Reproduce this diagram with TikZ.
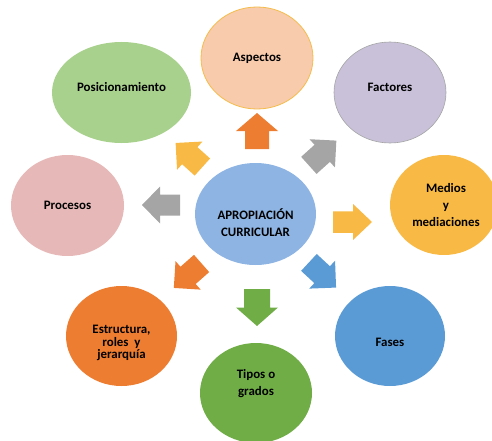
\documentclass[tikz,border=0pt]{standalone}
\usepackage{fontspec}
\setmainfont{Carlito}
\usetikzlibrary{shapes.geometric}
\definecolor{cAsp}{HTML}{F8CBAD}
\definecolor{cAspB}{HTML}{F5BC4A}
\definecolor{cPos}{HTML}{A9D18E}
\definecolor{cFac}{HTML}{C9C1DA}
\definecolor{cFacB}{HTML}{A5A5A5}
\definecolor{cPro}{HTML}{E6B9B8}
\definecolor{cCen}{HTML}{8EB4E3}
\definecolor{cMed}{HTML}{F8BA45}
\definecolor{cEst}{HTML}{ED7D31}
\definecolor{cTip}{HTML}{70AD47}
\definecolor{cFas}{HTML}{5B9BD5}
\definecolor{cGray}{HTML}{A5A5A5}
\tikzset{
  bubble/.style={ellipse, inner sep=0pt, draw=none},
  lbl/.style={font=\fontsize{12.9}{17}\selectfont\bfseries, align=center, inner sep=0pt, text=black},
  blockarrow/.style={draw=none},
}
% #1 x, #2 y, #3 angle, #4 length, #5 head width, #6 shaft width, #7 head length, #8 colour
\newcommand\myblockarrow[8]{%
  \begin{scope}[shift={(#1,#2)}, rotate=#3]
    \fill[blockarrow, #8]
      (-#4/2, #6/2) -- (#4/2-#7, #6/2) -- (#4/2-#7, #5/2) -- (#4/2, 0)
      -- (#4/2-#7, -#5/2) -- (#4/2-#7, -#6/2) -- (-#4/2, -#6/2) -- cycle;
  \end{scope}}
\begin{document}
\begin{tikzpicture}[x=1pt,y=-1pt]
\useasboundingbox (0,0) rectangle (492,441);
\clip (0,0) rectangle (492,441);
% bubbles
\node[bubble, fill=cAsp, draw=cAspB, line width=0.8pt, minimum width=112pt, minimum height=102pt] (asp) at (257,58) {};
\node[bubble, fill=cPos, minimum width=139pt, minimum height=101pt] (pos) at (121.5,92.5) {};
\node[bubble, fill=cFac, draw=cFacB, line width=0.6pt, minimum width=112pt, minimum height=101pt] (fac) at (390,92.5) {};
\node[bubble, fill=cPro, minimum width=113pt, minimum height=101pt] (pro) at (67.5,205.5) {};
\node[bubble, fill=cCen, minimum width=121pt, minimum height=102pt] (cen) at (255.5,214) {};
\node[bubble, fill=cMed, minimum width=108pt, minimum height=100pt] (med) at (444,205) {};
\node[bubble, fill=cEst, minimum width=111pt, minimum height=100pt] (est) at (121.5,336) {};
\node[bubble, fill=cTip, minimum width=112pt, minimum height=100pt] (tip) at (256,393) {};
\node[bubble, fill=cFas, minimum width=110pt, minimum height=100pt] (fas) at (390,336) {};
% labels
\node[lbl] (tasp) at (257,58) {Aspectos};
\node[lbl] (tpos) at (121.5,87) {Posicionamiento};
\node[lbl] (tfac) at (390,87) {Factores};
\node[lbl] (tpro) at (67.5,205) {Procesos};
\node[lbl] (tcen) at (255.5,222.5) {APROPIACIÓN\\CURRICULAR};
\node[lbl] (tmed) at (446,205.5) {Medios\\y\\mediaciones};
\node[lbl, font=\fontsize{12.9}{12.8}\selectfont\bfseries] (test) at (121.5,343) {Estructura,\\roles\ \ y\\jerarquía};
\node[lbl] (ttip) at (256,383.5) {Tipos o\\grados};
\node[lbl] (tfas) at (390,342) {Fases};
% block arrows
\myblockarrow{257}{131}{90}{36}{42}{24}{18}{cEst}
\myblockarrow{257}{307.5}{-90}{37}{42}{26}{18.5}{cTip}
\myblockarrow{161}{205}{180}{38}{37}{21}{18}{cGray}
\myblockarrow{352.5}{222}{0}{39}{36}{21.5}{19}{cMed}
\myblockarrow{189}{155}{138}{36}{38}{23}{19}{cMed}
\myblockarrow{322.6}{153}{42}{37}{38}{23}{19}{cGray}
\myblockarrow{187.7}{275.7}{221.4}{37}{38}{23}{19}{cEst}
\myblockarrow{322.5}{275}{-42.8}{37}{38}{23}{19}{cFas}
\end{tikzpicture}
\end{document}
